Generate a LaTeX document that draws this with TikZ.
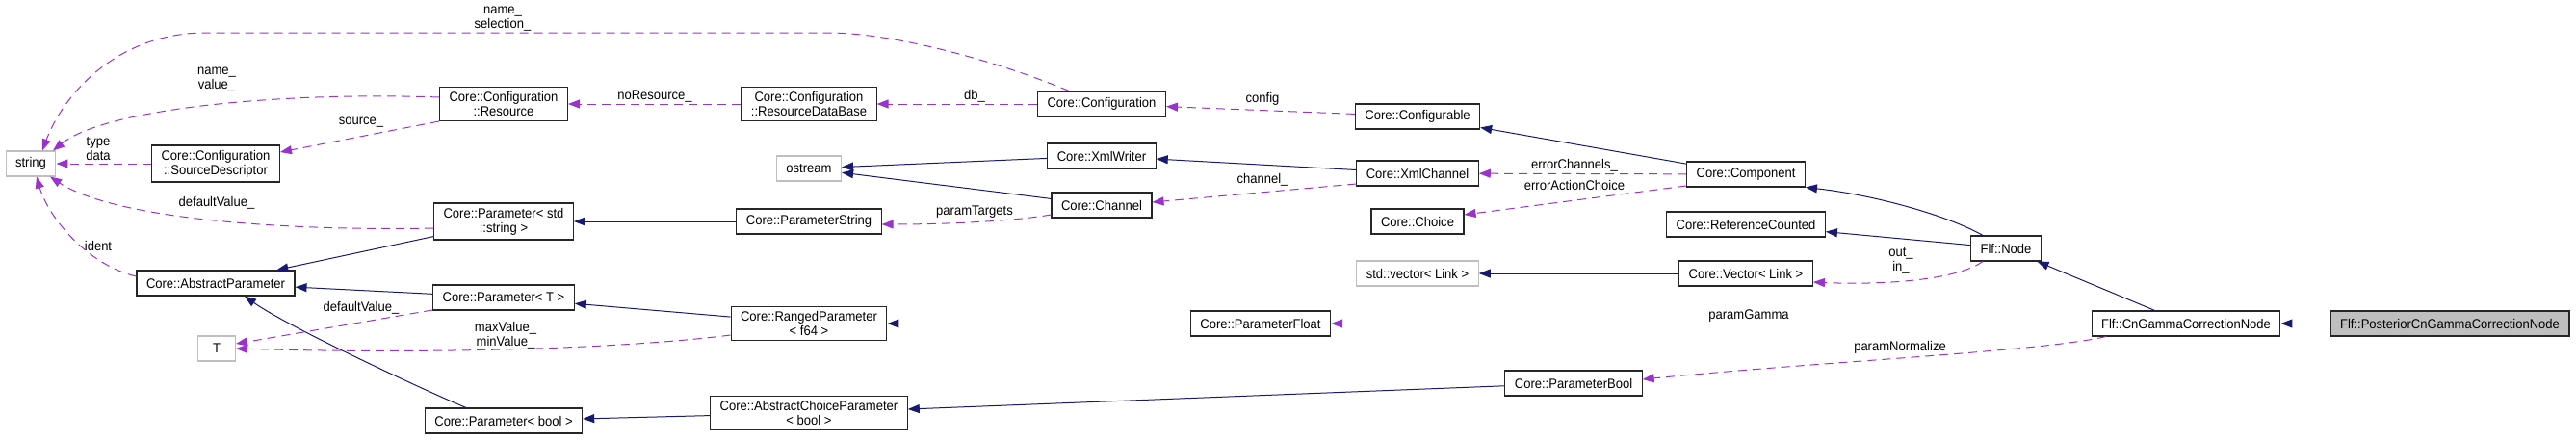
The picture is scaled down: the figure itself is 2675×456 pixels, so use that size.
\documentclass[tikz,border=0pt]{standalone}
\usepackage{fontspec}
\setmainfont{Liberation Sans}[FakeStretch=0.93]
\usetikzlibrary{arrows.meta}
\definecolor{inhcol}{HTML}{191970}
\definecolor{usecol}{HTML}{9A32CD}
\definecolor{extcol}{HTML}{BFBFBF}

\begin{document}
\begin{tikzpicture}[x=1pt,y=-1pt,
    cls/.style={draw=black!85,line width=1.1pt,fill=white,font=\fontsize{14}{15}\selectfont,
      align=center,inner xsep=10pt,inner ysep=5pt,minimum height=26pt},
    ext/.style={cls,draw=extcol},
    self/.style={cls,fill=extcol},
    inh/.style={draw=inhcol,line width=1pt,-{Triangle[length=12pt,width=9pt]}},
    use/.style={draw=usecol,line width=1pt,dash pattern=on 9pt off 6pt,
      -{Triangle[length=12pt,width=9pt]}},
    lbl/.style={font=\fontsize{14}{15}\selectfont,align=center,inner sep=0pt}]
  \useasboundingbox (0,0) rectangle (2675,456);

  % classes
  \node[ext] (string) at (32,170) {string};
  \node[cls] (srcdesc) at (224,170) {Core::Configuration\\::SourceDescriptor};
  \node[cls] (abspar) at (224,294) {Core::AbstractParameter};
  \node[ext,minimum width=39pt] (T) at (225,362) {T};
  \node[cls] (resource) at (523,108) {Core::Configuration\\::Resource};
  \node[cls] (parstr) at (523,230) {Core::Parameter< std\\::string >};
  \node[cls] (parT) at (523,309) {Core::Parameter< T >};
  \node[cls] (parbool) at (523,437) {Core::Parameter< bool >};
  \node[cls] (resdb) at (840,108) {Core::Configuration\\::ResourceDataBase};
  \node[ext] (ostream) at (840,175) {ostream};
  \node[cls] (pstring) at (840,230) {Core::ParameterString};
  \node[cls] (ranged) at (840,336) {Core::RangedParameter\\< f64 >};
  \node[cls] (abschoice) at (840,429) {Core::AbstractChoiceParameter\\< bool >};
  \node[cls] (config) at (1144,108) {Core::Configuration};
  \node[cls] (xmlwriter) at (1144,162) {Core::XmlWriter};
  \node[cls] (channel) at (1144,213) {Core::Channel};
  \node[cls] (pfloat) at (1309,336) {Core::ParameterFloat};
  \node[cls] (configurable) at (1472,121) {Core::Configurable};
  \node[cls] (xmlchannel) at (1472,180) {Core::XmlChannel};
  \node[cls] (choice) at (1472,230) {Core::Choice};
  \node[ext] (stdvec) at (1472,284) {std::vector< Link >};
  \node[cls] (pbool) at (1634,398) {Core::ParameterBool};
  \node[cls] (component) at (1813,181) {Core::Component};
  \node[cls] (refcount) at (1813,233) {Core::ReferenceCounted};
  \node[cls] (veclink) at (1813,284) {Core::Vector< Link >};
  \node[cls] (flfnode) at (2083,258) {Flf::Node};
  \node[cls] (cngamma) at (2270,336) {Flf::CnGammaCorrectionNode};
  \node[self] (posterior) at (2544,336) {Flf::PosteriorCnGammaCorrectionNode};

  % inheritance
  \draw[inh] (parstr) -- (abspar);
  \draw[inh] (parT) -- (abspar);
  \draw[inh] ([xshift=-39pt]parbool.north) .. controls (440,405) and (300,340) .. ([xshift=30pt]abspar.south);
  \draw[inh] (pstring) -- (parstr);
  \draw[inh] (ranged) -- (parT);
  \draw[inh] (abschoice) -- (parbool);
  \draw[inh] (pfloat) -- (ranged);
  \draw[inh] (pbool) -- (abschoice);
  \draw[inh] (xmlwriter) -- (ostream);
  \draw[inh] (channel) -- (ostream);
  \draw[inh] (xmlchannel) -- (xmlwriter);
  \draw[inh] (component) -- (configurable);
  \draw[inh] ([xshift=-24pt]flfnode.north) .. controls (2025,225) and (1950,203) .. (component.south east);
  \draw[inh] (flfnode) -- (refcount);
  \draw[inh] (veclink) -- (stdvec);
  \draw[inh] (cngamma) -- (flfnode);
  \draw[inh] (posterior) -- (cngamma);

  % usage
  \draw[use] ([xshift=-34pt]config.north) .. controls (1040,65) and (930,34) .. (860,34)
    -- (214,34) .. controls (120,34) and (65,100) .. ([xshift=12pt]string.north);
  \draw[use] ([yshift=7pt]resource.west) .. controls (300,95) and (110,112) .. ([xshift=23pt]string.north);
  \draw[use] (srcdesc) -- (string);
  \draw[use] ([yshift=-18pt]resource.west) -- ([yshift=12pt]srcdesc.east);
  \draw[use] ([yshift=-7pt]parstr.west) .. controls (300,240) and (120,228) .. ([xshift=20pt]string.south);
  \draw[use] ([yshift=7pt]abspar.west) .. controls (90,275) and (50,225) .. ([xshift=6pt]string.south);
  \draw[use] ([yshift=-13pt]parT.west) -- ([yshift=5pt]T.east);
  \draw[use] ([yshift=-12pt]ranged.west) .. controls (650,362) and (450,368) .. (T.east);
  \draw[use] (resdb) -- (resource);
  \draw[use] (config) -- (resdb);
  \draw[use] (configurable) -- (config);
  \draw[use] ([yshift=-11pt]xmlchannel.west) -- ([yshift=3pt]channel.east);
  \draw[use] ([yshift=-10pt]channel.west) .. controls (1050,230) and (980,233) .. ([yshift=-3pt]pstring.east);
  \draw[use] (component) -- (xmlchannel);
  \draw[use] ([yshift=-12pt]component.west) -- ([yshift=7pt]choice.east);
  \draw[use] ([xshift=-24pt]flfnode.south) .. controls (2030,292) and (1950,296) .. ([yshift=-9pt]veclink.east);
  \draw[use] (cngamma) -- (pfloat);
  \draw[use] ([xshift=-83pt]cngamma.south) .. controls (2120,365) and (1900,375) .. ([yshift=4pt]pbool.east);

  % edge labels
  \node[lbl] (lselect) at (522,20) {name\_\\selection\_};
  \node[lbl] (lvalue) at (225,83) {name\_\\value\_};
  \node[lbl] (ltype) at (102,155) {type\\data};
  \node[lbl] (lsource) at (375,127) {source\_};
  \node[lbl] (ldefstr) at (225,211) {defaultValue\_};
  \node[lbl] (lident) at (102,255) {ident};
  \node[lbl] (ldefT) at (375,320) {defaultValue\_};
  \node[lbl] (lminmax) at (525,348) {maxValue\_\\minValue\_};
  \node[lbl] (lnores) at (680,100) {noResource\_};
  \node[lbl] (ldb) at (1012,100) {db\_};
  \node[lbl] (lconfig) at (1311,103) {config};
  \node[lbl] (lchannel) at (1311,187) {channel\_};
  \node[lbl] (ltargets) at (1012,220) {paramTargets};
  \node[lbl] (lerrch) at (1635,172) {errorChannels\_};
  \node[lbl] (lerract) at (1635,192) {errorActionChoice};
  \node[lbl] (linout) at (1974,271) {out\_\\in\_};
  \node[lbl] (lgamma) at (1816,328) {paramGamma};
  \node[lbl] (lnorm) at (1973,361) {paramNormalize};
\end{tikzpicture}
\end{document}
